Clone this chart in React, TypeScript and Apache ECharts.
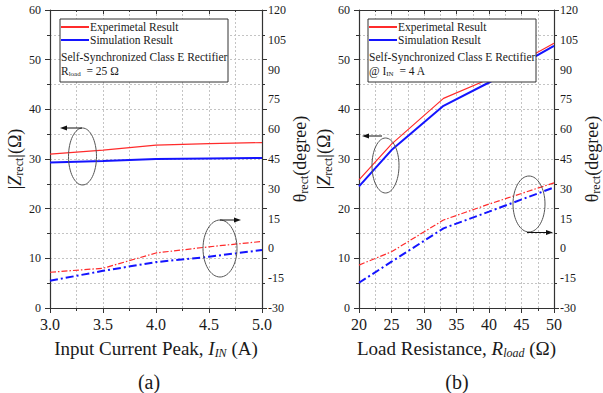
import React, { useEffect, useRef } from "react";
import * as echarts from "echarts";

// ---- data: chart (a) ----
const iinValues = [3.0, 3.5, 4.0, 4.5, 5.0];
const zExpA = [31.0, 31.8, 32.8, 33.1, 33.3];
const zSimA = [29.3, 29.6, 30.0, 30.1, 30.2];
const thExpA = [-12.0, -10.0, -2.3, 0.8, 3.5];
const thSimA = [-16.3, -11.3, -6.9, -4.2, -0.8];

// ---- data: chart (b) ----
const rloadValues = [20, 25, 33, 40, 50];
const zExpB = [25.8, 33.0, 42.2, 46.1, 53.3];
const zSimB = [24.5, 31.8, 40.7, 45.4, 52.8];
const thExpB = [-8.4, -1.7, 14.3, 22.3, 33.0];
const thSimB = [-17.3, -6.7, 10.1, 18.5, 30.7];

const seriesNames = ["Experimetal Result", "Simulation Result"];

const FONT = "Liberation Serif";
const AX = "#333";
const GRIDC = "#c4c4c4";
const RED = "#ff2b2b";
const BLUE = "#1414ff";
const TXT = "#1a1a1a";

const pairs = (xs: number[], ys: number[]) => xs.map((x, i) => [x, ys[i]]);

const richY = {
  z: { fontFamily: FONT, fontSize: 18, fontStyle: "italic", color: TXT },
  s: { fontFamily: FONT, fontSize: 12, color: TXT, padding: [9, 0, 0, 0] },
};
const richX = {
  i: { fontFamily: FONT, fontSize: 19, fontStyle: "italic", color: TXT },
  is: { fontFamily: FONT, fontSize: 12, fontStyle: "italic", color: TXT, padding: [10, 0, 0, 0] },
};

function xAxisPair(gridIndex: number, min: number, max: number, interval: number, name: string, fmt: (v: number) => string) {
  return [
    {
      type: "value",
      gridIndex,
      min,
      max,
      interval,
      position: "bottom",
      axisLine: { show: true, onZero: false, lineStyle: { color: AX, width: 1.2 } },
      axisTick: { show: true, inside: false, length: 5, lineStyle: { color: AX } },
      minorTick: { show: true, splitNumber: 2, length: 3, lineStyle: { color: AX } },
      splitLine: { show: true, lineStyle: { color: GRIDC, type: [2, 2] } },
      minorSplitLine: { show: true, lineStyle: { color: GRIDC, type: [2, 2] } },
      axisLabel: { fontFamily: FONT, fontSize: 16, color: TXT, margin: 8, formatter: fmt },
      name,
      nameLocation: "middle",
      nameGap: 29,
      nameTextStyle: { fontFamily: FONT, fontSize: 19, color: TXT, rich: richX },
    },
    {
      type: "value",
      gridIndex,
      min,
      max,
      interval,
      position: "top",
      axisLine: { show: true, onZero: false, lineStyle: { color: AX, width: 1.2 } },
      axisTick: { show: true, inside: true, length: 4, lineStyle: { color: AX } },
      minorTick: { show: true, splitNumber: 2, length: 2, lineStyle: { color: AX } },
      splitLine: { show: false },
      axisLabel: { show: false },
    },
  ];
}

function yAxisTriple(gridIndex: number) {
  return [
    {
      type: "value",
      gridIndex,
      min: 0,
      max: 60,
      interval: 10,
      position: "left",
      axisLine: { show: true, onZero: false, lineStyle: { color: AX, width: 1.2 } },
      axisTick: { show: true, inside: false, length: 5, lineStyle: { color: AX } },
      minorTick: { show: true, splitNumber: 2, length: 3, lineStyle: { color: AX } },
      splitLine: { show: true, lineStyle: { color: GRIDC, type: [2, 2] } },
      minorSplitLine: { show: true, lineStyle: { color: GRIDC, type: [2, 2] } },
      axisLabel: { fontFamily: FONT, fontSize: 12, color: TXT, margin: 9 },
      name: "|{z|Z}{s|rect}|(Ω)",
      nameLocation: "middle",
      nameRotate: 90,
      nameGap: 22,
      nameTextStyle: { fontFamily: FONT, fontSize: 18, color: TXT, rich: richY },
    },
    {
      type: "value",
      gridIndex,
      min: -30,
      max: 120,
      interval: 15,
      position: "right",
      axisLine: { show: true, onZero: false, lineStyle: { color: AX, width: 1.2 } },
      axisTick: { show: false },
      splitLine: { show: false },
      axisLabel: { fontFamily: FONT, fontSize: 12, color: TXT, margin: 6, padding: [5, 0, 0, 0] },
      name: "θ{s|rect}(degree)",
      nameLocation: "middle",
      nameRotate: 90,
      nameGap: 27,
      nameTextStyle: { fontFamily: FONT, fontSize: 18, color: TXT, rich: richY },
    },
    {
      type: "value",
      gridIndex,
      min: 0,
      max: 60,
      interval: 10,
      position: "right",
      axisLine: { show: false },
      axisTick: { show: true, inside: false, length: 5, lineStyle: { color: AX } },
      minorTick: { show: true, splitNumber: 2, length: 3, lineStyle: { color: AX } },
      splitLine: { show: false },
      axisLabel: { show: false },
    },
  ];
}

function lineSeries(name: string, xIdx: number, yIdx: number, xs: number[], ys: number[], color: string, width: number, type: any) {
  return {
    type: "line",
    name,
    xAxisIndex: xIdx,
    yAxisIndex: yIdx,
    data: pairs(xs, ys),
    symbol: "none",
    showSymbol: false,
    lineStyle: { color, width, type },
    itemStyle: { color },
    z: 3,
  };
}

const redDash = [6, 2, 1.5, 2];
const blueDash = [8, 3, 2, 3];

function legendBox(x: number, line3: string) {
  return [
    {
      type: "rect",
      z: 10,
      shape: { x, y: 19, width: 168, height: 63 },
      style: { fill: "#fff", stroke: AX, lineWidth: 1 },
    },
    {
      type: "text",
      z: 11,
      x: x + 1,
      y: 57,
      style: { text: "Self-Synchronized Class E Rectifier", fontFamily: FONT, fontSize: 11.5, fill: TXT, verticalAlign: "middle" },
    },
    {
      type: "text",
      z: 11,
      x: x + 1,
      y: 71,
      style: {
        text: line3,
        fontFamily: FONT,
        fontSize: 11.5,
        fill: TXT,
        verticalAlign: "middle",
        rich: {
          s: { fontFamily: FONT, fontSize: 7, fill: TXT, padding: [6, 0, 0, 0] },
        },
      },
    },
  ];
}

function arrow(x1: number, y: number, x2: number) {
  const dir = x2 > x1 ? 1 : -1;
  return [
    { type: "line", z: 6, shape: { x1, y1: y, x2: x2 - dir * 4, y2: y }, style: { stroke: "#111", lineWidth: 1 } },
    {
      type: "polygon",
      z: 6,
      shape: { points: [[x2, y], [x2 - dir * 7, y - 2.5], [x2 - dir * 7, y + 2.5]] },
      style: { fill: "#111" },
    },
  ];
}

function ellipse(cx: number, cy: number, rx: number, ry: number) {
  return { type: "ellipse", z: 6, shape: { cx, cy, rx, ry }, style: { fill: "none", stroke: "#555", lineWidth: 1 } };
}

export default function App() {
  const ref = useRef<HTMLDivElement>(null);
  useEffect(() => {
    if (!ref.current) return;
    const chart = echarts.init(ref.current, null, { renderer: "svg" });
    const legendCommon = {
      orient: "vertical",
      itemWidth: 28,
      itemHeight: 2,
      itemGap: 1,
      padding: 0,
      selectedMode: false,
      z: 20,
      data: seriesNames,
      itemStyle: { opacity: 0 },
      textStyle: { fontFamily: FONT, fontSize: 11.5, color: TXT, padding: [0, 0, 0, -4] },
    };
    chart.setOption({
      animation: false,
      backgroundColor: "#fff",
      grid: [
        { left: 50, top: 10, width: 212, height: 298 },
        { left: 359, top: 10, width: 211, height: 298 },
      ],
      xAxis: [
        ...xAxisPair(0, 3, 5, 0.5, "Input Current Peak, {i|I}{is|IN} (A)", (v: number) => v.toFixed(1)),
        ...xAxisPair(1, 20, 50, 5, "Load Resistance, {i|R}{is|load} (Ω)", (v: number) => String(v)),
      ],
      yAxis: [...yAxisTriple(0), ...yAxisTriple(1)],
      legend: [
        { ...legendCommon, left: 60, top: 21 },
        { ...legendCommon, left: 368, top: 21 },
      ],
      series: [
        lineSeries(seriesNames[0], 0, 0, iinValues, zExpA, RED, 1.2, "solid"),
        lineSeries(seriesNames[1], 0, 0, iinValues, zSimA, BLUE, 2, "solid"),
        lineSeries("Experimetal θ (a)", 0, 1, iinValues, thExpA, RED, 1.2, redDash),
        lineSeries("Simulation θ (a)", 0, 1, iinValues, thSimA, BLUE, 2, blueDash),
        lineSeries(seriesNames[0], 2, 3, rloadValues, zExpB, RED, 1.2, "solid"),
        lineSeries(seriesNames[1], 2, 3, rloadValues, zSimB, BLUE, 2, "solid"),
        lineSeries("Experimetal θ (b)", 2, 4, rloadValues, thExpB, RED, 1.2, redDash),
        lineSeries("Simulation θ (b)", 2, 4, rloadValues, thSimB, BLUE, 2, blueDash),
      ],
      graphic: [
        ...legendBox(60, "R{s|load}  = 25 Ω"),
        ...legendBox(368, "@ I{s|IN}  = 4 A"),
        ellipse(82.5, 156.5, 14, 28.5),
        ...arrow(82, 128, 60),
        ellipse(220, 248.5, 17, 28.5),
        ...arrow(220, 220, 241),
        ellipse(385.5, 165.5, 13.5, 27.5),
        ...arrow(382, 136, 362),
        ellipse(529, 204, 16, 28),
        ...arrow(527, 232.5, 553),
        {
          type: "text",
          x: 149,
          y: 382,
          style: { text: "(a)", fontFamily: FONT, fontSize: 20, fill: TXT, textAlign: "center", verticalAlign: "middle" },
        },
        {
          type: "text",
          x: 457,
          y: 382,
          style: { text: "(b)", fontFamily: FONT, fontSize: 20, fill: TXT, textAlign: "center", verticalAlign: "middle" },
        },
      ],
    });
    return () => chart.dispose();
  }, []);
  return <div ref={ref} style={{ position: "absolute", left: 0, top: 0, width: 603, height: 393 }} />;
}
